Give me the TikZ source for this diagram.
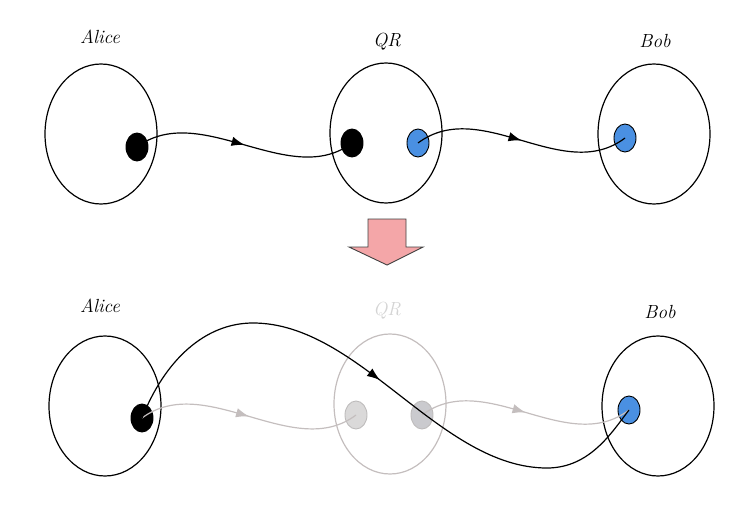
\documentclass[tikz,border=0pt]{standalone}
\usepackage{fontspec}
\usetikzlibrary{shapes.geometric,decorations.markings,arrows.meta}
\definecolor{dotblue}{RGB}{74,144,226}
\definecolor{ghost}{RGB}{196,190,190}
\definecolor{ghosttext}{RGB}{212,212,212}
\definecolor{ghostdotA}{RGB}{218,217,217}
\definecolor{ghostdotB}{RGB}{202,202,206}
\definecolor{ghostedge}{RGB}{190,188,188}
\definecolor{pinkarrow}{RGB}{244,166,168}
\begin{document}
\begin{tikzpicture}[x=1pt,y=-1pt,
  party/.style={ellipse,draw,line width=1.2pt,minimum width=112pt,minimum height=140pt,inner sep=0pt},
  ghostparty/.style={party,draw=ghost},
  qubit/.style={ellipse,minimum width=22pt,minimum height=28pt,inner sep=0pt},
  blackdot/.style={qubit,fill=black,draw=black,line width=0.9pt},
  bluedot/.style={qubit,fill=dotblue,draw=black,line width=0.9pt},
  ghostdotone/.style={qubit,fill=ghostdotA,draw=ghostedge,line width=0.9pt},
  ghostdottwo/.style={qubit,fill=ghostdotB,draw=ghostedge,line width=0.9pt},
  partylabel/.style={anchor=base,font=\fontsize{19}{22}\selectfont\itshape,inner sep=0pt},
  ghostlabel/.style={partylabel,text=ghosttext},
  midarrow/.style={postaction={decorate},decoration={markings,
    mark=at position 0.5 with {\arrow{Latex[length=13pt,width=9.5pt]}}}},
  link/.style={line width=1.2pt,midarrow},
  ghostlink/.style={link,color=ghost},
  bigarrow/.style={fill=pinkarrow,draw=black!75,line width=0.9pt}
]
\useasboundingbox (0,0) rectangle (752,511);

% ---------- top row ----------
\node[party] (A1) at (101,134) {};
\node[party] (Q1) at (386,133) {};
\node[party] (B1) at (654,134) {};
\node[partylabel] (LA1) at (100,44) {Alice};
\node[partylabel] (LQ1) at (387,47) {QR};
\node[partylabel] (LB1) at (655,48) {Bob};

\node[blackdot] (a1) at (137,147) {};
\node[blackdot] (q1) at (352,143) {};
\node[bluedot] (r1) at (418,143) {};
\node[bluedot] (b1) at (625,138) {};

\draw[link] (a1.center) .. controls (200,100) and (290,190) .. (q1.center);
\draw[link] (r1.center) .. controls (481,96) and (563,185) .. (b1.center);

% ---------- big arrow ----------
\draw[bigarrow] (368,219) -- (406,219) -- (406,247) -- (423,247) -- (387,265)
  -- (349,247) -- (368,247) -- cycle;

% ---------- bottom row ----------
\node[party] (A2) at (105,406) {};
\node[ghostparty] (Q2) at (390,404) {};
\node[party] (B2) at (658,406) {};
\node[partylabel] (LA2) at (100,312) {Alice};
\node[ghostlabel] (LQ2) at (387,315) {QR};
\node[partylabel] (LB2) at (660,318) {Bob};

\node[blackdot] (a2) at (142,418) {};
\node[ghostdotone] (q2) at (356,415) {};
\node[ghostdottwo] (r2) at (422,415) {};
\node[bluedot] (b2) at (629,410) {};

\draw[ghostlink] (a2.center) .. controls (205,371) and (294,462) .. (q2.center);
\draw[ghostlink] (r2.center) .. controls (485,368) and (567,457) .. (b2.center);

\draw[link] (a2.center) .. controls (165,360) and (205,323) .. (253,323)
  .. controls (360,323) and (440,468) .. (547,468)
  .. controls (590,468) and (612,432) .. (b2.center);
\end{tikzpicture}
\end{document}
